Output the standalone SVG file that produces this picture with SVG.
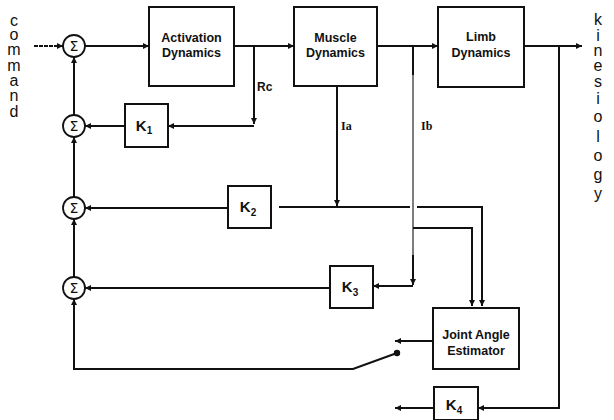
<svg xmlns="http://www.w3.org/2000/svg" width="614" height="420" viewBox="0 0 614 420">
<style>
.box{fill:#fff;stroke:#111;stroke-width:2}
.ln{fill:none;stroke:#111;stroke-width:2}
.thin{fill:none;stroke:#111;stroke-width:1.1}
.lbl{font-family:"Liberation Sans",Arial,sans-serif;font-weight:bold;font-size:12.5px;fill:#111;text-anchor:middle}
.k{font-family:"Liberation Sans",Arial,sans-serif;font-weight:bold;font-size:15px;fill:#111;text-anchor:middle}
.ks{font-size:10px}
.sig{fill:#fff;stroke:#111;stroke-width:1.8}
.sg{font-family:"DejaVu Sans",sans-serif;font-size:14px;fill:#111;text-anchor:middle}
.vt{font-family:"Liberation Sans",Arial,sans-serif;font-size:16px;fill:#111;text-anchor:middle}
.sig-l{font-family:"Liberation Serif",serif;font-weight:bold;font-size:12px;fill:#111}
.rc{font-family:"Liberation Sans",Arial,sans-serif;font-weight:bold;font-size:12px;fill:#111}
</style>
<defs>
<marker id="aht" viewBox="0 0 10 10" refX="10" refY="5" markerWidth="7" markerHeight="6" orient="auto" markerUnits="userSpaceOnUse">
<path d="M0,0 L10,5 L0,10 z" fill="#111"/>
</marker>
</defs>

<g id="connectors">
<path class="ln" d="M34,46 H63" stroke-dasharray="4,1" marker-end="url(#aht)"/>
<path class="ln" d="M85,46 H149" marker-end="url(#aht)"/>
<path class="ln" d="M234,46 H294" marker-end="url(#aht)"/>
<path class="ln" d="M377,46 H438" marker-end="url(#aht)"/>
<path class="ln" d="M524,46 H582" marker-end="url(#aht)"/>
<path class="ln" d="M254,46 V124" marker-end="url(#aht)"/>
<path class="ln" d="M254,126 H168" marker-end="url(#aht)"/>
<path class="ln" d="M125,126 H85" marker-end="url(#aht)"/>
<path class="ln" d="M337,86 V206" marker-end="url(#aht)"/>
<path class="ln" d="M279,207 H410"/>
<path class="ln" d="M417,207 H482 V306" marker-end="url(#aht)"/>
<path class="ln" d="M228,208 H85" marker-end="url(#aht)"/>
<path class="ln" d="M413,46 V75"/>
<path class="thin" d="M413,75 V260"/>
<path class="ln" d="M413,228 H472 V306" marker-end="url(#aht)"/>
<path class="ln" d="M413,255 V285" marker-end="url(#aht)"/>
<path class="ln" d="M413,286 H373" marker-end="url(#aht)"/>
<path class="ln" d="M330,288 H85" marker-end="url(#aht)"/>
<path class="ln" d="M74,277 V219" marker-end="url(#aht)"/>
<path class="ln" d="M74,197 V137" marker-end="url(#aht)"/>
<path class="ln" d="M74,115 V57" marker-end="url(#aht)"/>
<path class="ln" d="M397,353 L353,369 H74 V299" marker-end="url(#aht)"/>
<circle cx="397" cy="353" r="3.2" fill="#111"/>
<path class="ln" d="M433,341 H395" marker-end="url(#aht)"/>
<path class="ln" d="M559,46 V408 H478" marker-end="url(#aht)"/>
<path class="ln" d="M434,408 H395" marker-end="url(#aht)"/>
</g>

<g id="sum1"><circle class="sig" cx="74" cy="46" r="11"/><text class="sg" x="74" y="51">Σ</text></g>
<g id="sum2"><circle class="sig" cx="74" cy="126" r="11"/><text class="sg" x="74" y="131">Σ</text></g>
<g id="sum3"><circle class="sig" cx="74" cy="208" r="11"/><text class="sg" x="74" y="213">Σ</text></g>
<g id="sum4"><circle class="sig" cx="74" cy="288" r="11"/><text class="sg" x="74" y="293">Σ</text></g>

<g id="activation"><rect class="box" x="149" y="7" width="85" height="79"/>
<text class="lbl" x="191.5" y="42">Activation</text><text class="lbl" x="191.5" y="57">Dynamics</text></g>
<g id="muscle"><rect class="box" x="294" y="7" width="83" height="79"/>
<text class="lbl" x="335.5" y="42">Muscle</text><text class="lbl" x="335.5" y="57">Dynamics</text></g>
<g id="limb"><rect class="box" x="438" y="7" width="86" height="80"/>
<text class="lbl" x="481" y="41">Limb</text><text class="lbl" x="481" y="57">Dynamics</text></g>
<g id="jae"><rect class="box" x="433" y="308" width="86" height="61"/>
<text class="lbl" x="476" y="339">Joint Angle</text><text class="lbl" x="476" y="355">Estimator</text></g>

<g id="k1"><rect class="box" x="125" y="104" width="43" height="43"/><text class="k" x="144" y="131">K<tspan class="ks" dy="3">1</tspan></text></g>
<g id="k2"><rect class="box" x="228" y="186" width="43" height="42"/><text class="k" x="248" y="212">K<tspan class="ks" dy="4">2</tspan></text></g>
<g id="k3"><rect class="box" x="330" y="266" width="43" height="42"/><text class="k" x="350" y="292">K<tspan class="ks" dy="4">3</tspan></text></g>
<g id="k4"><rect class="box" x="434" y="387" width="44" height="33"/><text class="k" x="454" y="410">K<tspan class="ks" dy="4">4</tspan></text></g>

<g id="labels">
<text class="rc" x="257" y="91">Rc</text>
<text class="sig-l" x="341" y="130">Ia</text>
<text class="sig-l" x="421" y="130">Ib</text>
</g>

<g id="command" class="vt">
<text x="14" y="26">c</text>
<text x="14" y="40">o</text>
<text x="14" y="55">m</text>
<text x="14" y="71">m</text>
<text x="14" y="86">a</text>
<text x="14" y="101">n</text>
<text x="14" y="117">d</text>
</g>
<g id="kinesiology" class="vt">
<text x="598" y="25">k</text>
<text x="598" y="41">i</text>
<text x="598" y="56">n</text>
<text x="598" y="71">e</text>
<text x="598" y="87">s</text>
<text x="598" y="104">i</text>
<text x="598" y="122">o</text>
<text x="598" y="142">l</text>
<text x="598" y="161">o</text>
<text x="598" y="180">g</text>
<text x="598" y="199">y</text>
</g>
</svg>
